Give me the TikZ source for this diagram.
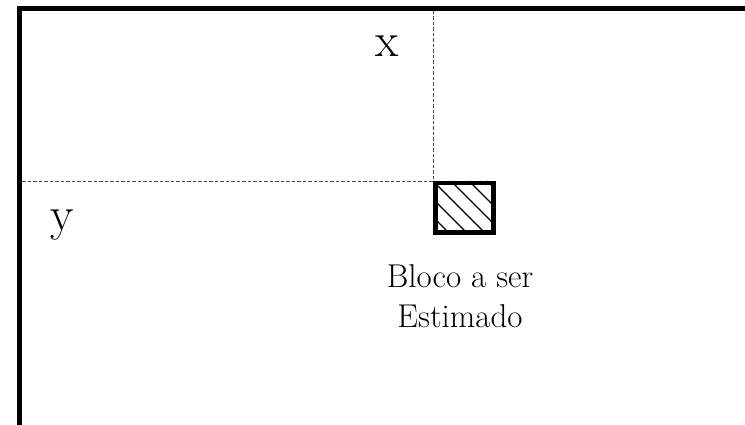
\documentclass[tikz,border=0pt]{standalone}
\usepackage{fontspec}
\begin{document}
\begin{tikzpicture}[x=1pt,y=-1pt,
  frame/.style={line width=5pt},
  guide/.style={line width=0.9pt, black!70, dash pattern=on 3.5pt off 2pt},
  blockbox/.style={draw, line width=4.5pt, minimum width=58pt, minimum height=49.5pt, inner sep=0pt, anchor=north west},
  hatch/.style={line width=1.2pt},
  axislabel/.style={font=\fontsize{48}{48}\selectfont, anchor=base, inner sep=0pt},
  caption/.style={font=\fontsize{33}{40}\selectfont, align=center, anchor=base, inner sep=0pt}
]
\useasboundingbox (0,0) rectangle (745,425);
% frame
\coordinate (fbl) at (19.5,425);
\coordinate (ftl) at (19.5,8.5);
\coordinate (ftr) at (745,8.5);
\draw[frame] (fbl) -- (ftl) -- (ftr);
% block
\node[blockbox] (blk) at (433,181) {};
\begin{scope}
  \clip (blk.north west) rectangle (blk.south east);
  \foreach \k in {-3,...,4} {
    \draw[hatch] (433+\k*18,181) -- ++(60,60);
  }
\end{scope}
\node[blockbox] at (433,181) {};
% guides
\coordinate (gtop) at (433,11);
\coordinate (gleft) at (22,181);
\draw[guide] (gtop) -- (blk.north west);
\draw[guide] (gleft) -- (blk.north west);
% labels
\node[axislabel] (lx) at (387,57) {x};
\node[axislabel] (ly) at (62,231) {y};
\node[caption] (cap) at (460,327) {Bloco a ser\\Estimado};
\end{tikzpicture}
\end{document}
